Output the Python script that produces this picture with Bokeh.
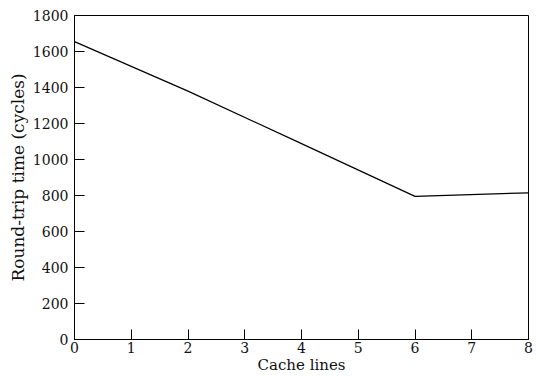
from bokeh.plotting import figure
from bokeh.embed import file_html
from bokeh.resources import INLINE
from bokeh.models import Range1d, FixedTicker

cache_lines = [0, 2, 4, 6, 8]
round_trip = [1655, 1380, 1088, 795, 815]
x_ticks = [0, 1, 2, 3, 4, 5, 6, 7, 8]
y_ticks = [0, 200, 400, 600, 800, 1000, 1200, 1400, 1600, 1800]

FONT = "DejaVu Serif"

p = figure(width=536, height=376, output_backend="svg", toolbar_location=None,
           x_range=Range1d(0, 8), y_range=Range1d(0, 1800),
           min_border_left=74, min_border_right=8, min_border_top=15, min_border_bottom=36)

p.line(cache_lines, round_trip, line_color="black", line_width=1.2)

p.xgrid.visible = False
p.ygrid.visible = False
p.outline_line_color = "black"
p.outline_line_width = 1
p.outline_line_alpha = 1

p.xaxis.ticker = FixedTicker(ticks=x_ticks)
p.yaxis.ticker = FixedTicker(ticks=y_ticks)
for ax in (p.xaxis, p.yaxis):
    ax.major_tick_in = 10
    ax.major_tick_out = 0
    ax.minor_tick_line_color = None
    ax.axis_line_color = "black"
    ax.major_tick_line_color = "black"
    ax.major_label_text_font = FONT
    ax.major_label_text_font_size = "14px"
    ax.major_label_text_color = "#111111"
    ax.axis_label_text_font = FONT
    ax.axis_label_text_font_style = "normal"
    ax.axis_label_text_color = "#111111"

p.xaxis.axis_label = "Cache lines"
p.yaxis.axis_label = "Round-trip time (cycles)"
p.xaxis.axis_label_text_font_size = "15px"
p.yaxis.axis_label_text_font_size = "17px"
p.xaxis.major_label_standoff = 2
p.xaxis.axis_label_standoff = 0
p.yaxis.major_label_standoff = 6
p.yaxis.axis_label_standoff = 2

open("out.html", "w").write(file_html(p, INLINE))
